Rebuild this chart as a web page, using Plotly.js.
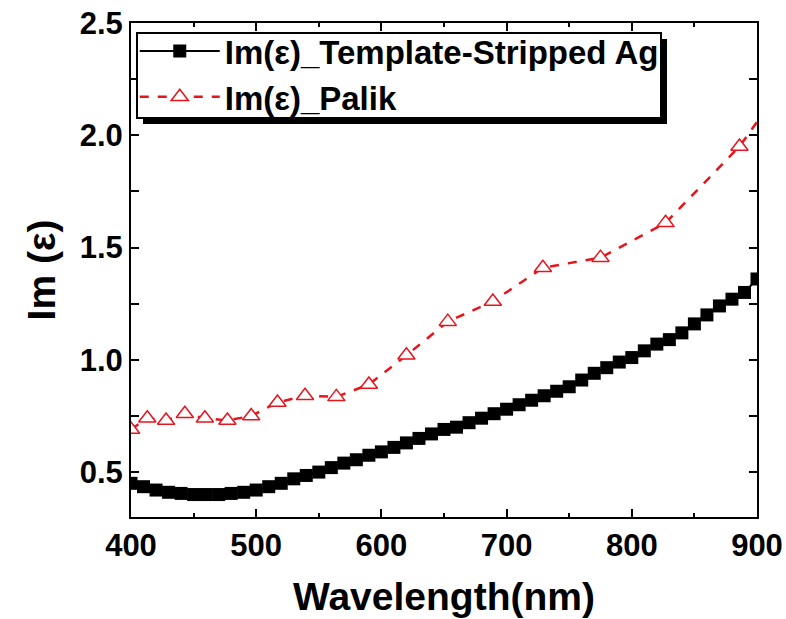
<!DOCTYPE html>
<html>
<head>
<meta charset="utf-8">
<script src="https://cdn.plot.ly/plotly-3.0.1.min.js"></script>
<style>html,body{margin:0;padding:0;background:#fff;}#chart{width:786px;height:619px;}</style>
</head>
<body>
<div id="chart"></div>
<script>
// Template-stripped Ag, Im(eps)
const tsWavelength = [400,410,420,430,440,450,460,470,480,490,500,510,520,530,540,550,560,570,580,590,600,610,620,630,640,650,660,670,680,690,700,710,720,730,740,750,760,770,780,790,800,810,820,830,840,850,860,870,880,890,900];
const tsImEps = [0.45,0.435,0.42,0.41,0.405,0.40,0.40,0.40,0.405,0.41,0.42,0.435,0.45,0.47,0.485,0.50,0.52,0.54,0.555,0.575,0.59,0.61,0.63,0.65,0.67,0.69,0.70,0.72,0.74,0.76,0.78,0.80,0.82,0.84,0.86,0.88,0.91,0.94,0.965,0.99,1.01,1.04,1.07,1.09,1.12,1.16,1.20,1.24,1.27,1.30,1.36];
// Palik, Im(eps)
const palikWavelength = [400,413,428,443,459,477,496,517,539,564,590,620,653,689,729,775,827,886,954];
const palikImEps = [0.69,0.74,0.73,0.76,0.74,0.73,0.75,0.81,0.84,0.835,0.89,1.02,1.17,1.26,1.41,1.455,1.61,1.95,2.48];
const seriesNames = ["Im(\u03b5)_Template-Stripped Ag", "Im(\u03b5)_Palik"];
const xTickVals = [400,500,600,700,800,900];
const yTickVals = [0.5,0.75,1.0,1.25,1.5,1.75,2.0,2.25,2.5];
const yTickText = ["0.5","","1.0","","1.5","","2.0","","2.5"];

const FONT = "Liberation Sans, Arial, sans-serif";
const traces = [
  {x: tsWavelength, y: tsImEps, name: seriesNames[0], type: "scatter", mode: "lines+markers",
   line: {color: "#000", width: 2}, marker: {symbol: "square", size: 13, color: "#000"}},
  {x: palikWavelength, y: palikImEps, name: seriesNames[1], type: "scatter", mode: "lines+markers",
   line: {color: "#e8141c", width: 2.5, dash: "dash"},
   marker: {symbol: "triangle-up", size: 15, color: "#fff", line: {color: "#e8141c", width: 1.5}}}
];
// plot area in pixels: x 131..757, y 23..517
function px2x(p) { return (p - 131) / 626; }
function px2y(p) { return (517 - p) / 494; }
const layout = {
  width: 786, height: 619,
  margin: {l: 131, r: 29, t: 23, b: 102},
  paper_bgcolor: "#fff", plot_bgcolor: "#fff",
  showlegend: true,
  font: {family: FONT, color: "#000"},
  xaxis: {range: [400, 900], tickvals: xTickVals, ticks: "inside", ticklen: 8, tickwidth: 2,
    tickcolor: "#000", showline: true, linewidth: 2, linecolor: "#000", mirror: "ticks",
    showgrid: false, zeroline: false,
    minor: {dtick: 50, tick0: 0, ticks: "inside", ticklen: 4, tickwidth: 2, tickcolor: "#000", showgrid: false},
    tickfont: {family: FONT, size: 31, weight: "bold"},
    title: {text: "Wavelength(nm)", font: {family: FONT, size: 39, weight: "bold"}, standoff: 20}},
  yaxis: {range: [0.3, 2.5], tickvals: yTickVals, ticktext: yTickText, ticks: "inside", ticklen: 8, tickwidth: 2,
    tickcolor: "#000", showline: true, linewidth: 2, linecolor: "#000", mirror: "ticks",
    showgrid: false, zeroline: false,
    tickfont: {family: FONT, size: 31, weight: "bold"},
    title: {text: "Im (\u03b5)", font: {family: FONT, size: 39, weight: "bold"}, standoff: 12}},
  legend: {x: 0.006, y: px2y(23), xanchor: "left", yanchor: "top", bgcolor: "rgba(0,0,0,0)",
    borderwidth: 0, itemwidth: 80,
    font: {family: FONT, size: 33, weight: "bold"}, tracegroupgap: 0},
  shapes: [
    {type: "rect", xref: "paper", yref: "paper", layer: "above",
     x0: px2x(143), x1: px2x(667), y0: px2y(39), y1: px2y(124),
     fillcolor: "#000", line: {width: 0}},
    {type: "rect", xref: "paper", yref: "paper", layer: "above",
     x0: px2x(137), x1: px2x(661), y0: px2y(33), y1: px2y(118),
     fillcolor: "#fff", line: {color: "#000", width: 2}}
  ]
};
Plotly.newPlot("chart", traces, layout, {displayModeBar: false, staticPlot: true});
</script>
</body>
</html>
